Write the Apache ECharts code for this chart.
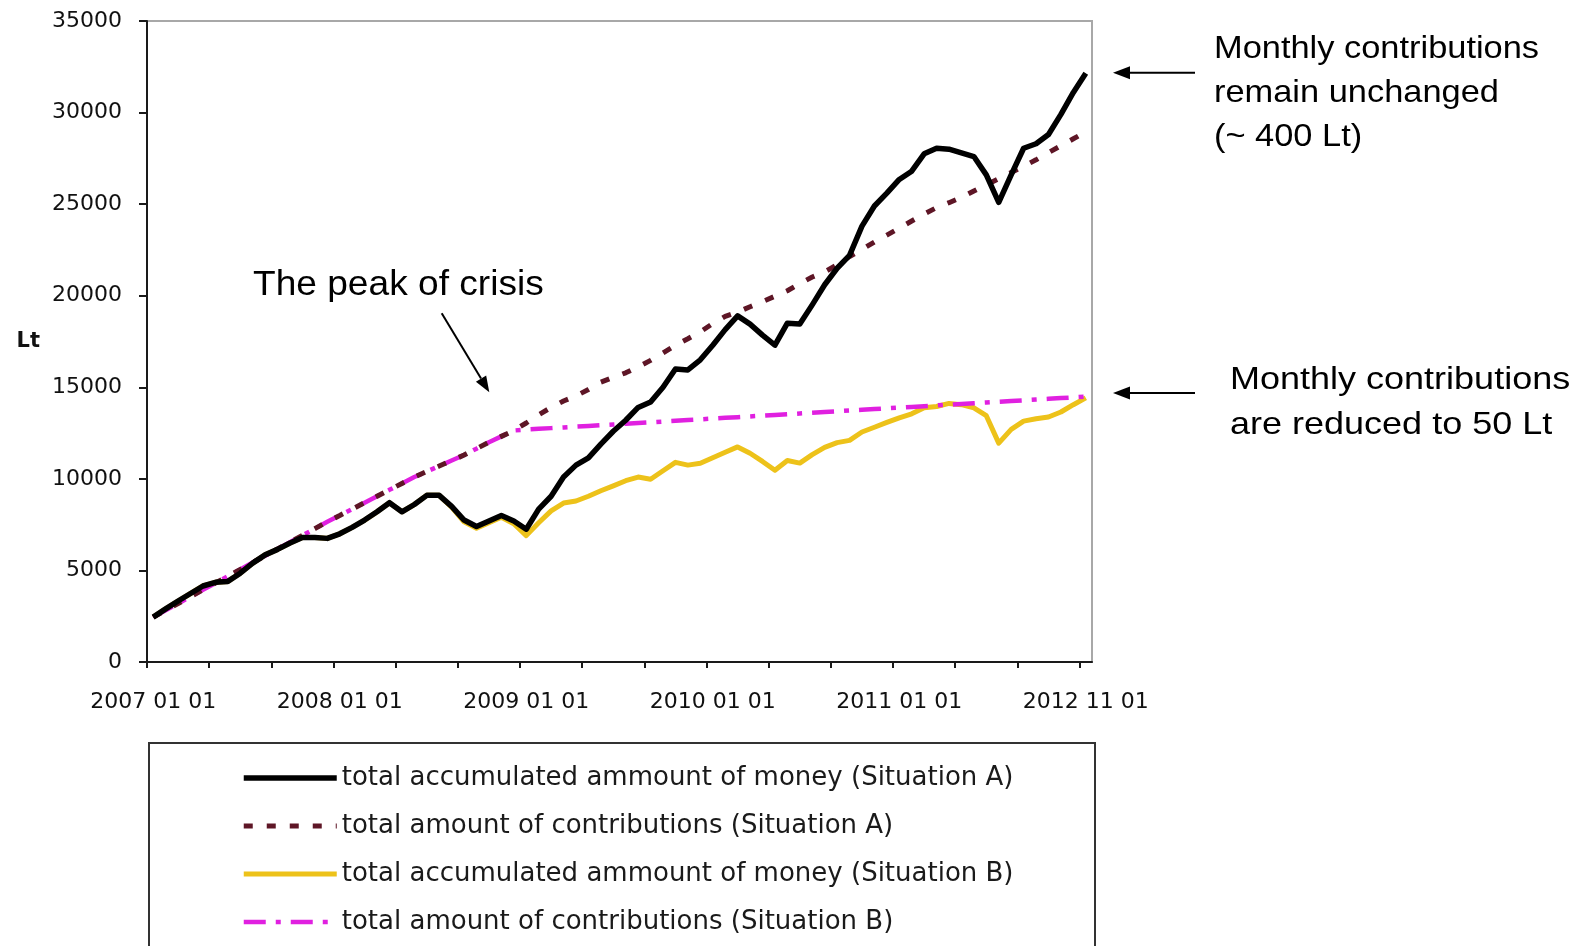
<!DOCTYPE html>
<html>
<head>
<meta charset="utf-8">
<title>Accumulated pension savings, situations A and B</title>
<script src="https://cdn.jsdelivr.net/npm/echarts/dist/echarts.min.js"></script>
<style>
  html, body { margin: 0; padding: 0; background: #ffffff; }
  #chart { width: 1589px; height: 946px; }
</style>
</head>
<body>
<div id="chart"></div>
<script>
// Labelled dates on the horizontal axis (one every 15 data points, ticks every 5)
const tickLabels = ['2007 01 01', '2008 01 01', '2009 01 01', '2010 01 01', '2011 01 01', '2012 11 01'];
const labelStep = 15;
const tickStep = 5;

const seriesNames = [
  'total accumulated ammount of money (Situation A)',
  'total amount of contributions (Situation A)',
  'total accumulated ammount of money (Situation B)',
  'total amount of contributions (Situation B)'
];

// Situation A: accumulated money, Lt
const moneyA = [
  2450, 2900, 3330, 3740, 4150, 4350, 4400, 4850, 5400, 5850,
  6150, 6500, 6800, 6800, 6750, 7000, 7350, 7750, 8200, 8700,
  8200, 8600, 9100, 9100, 8500, 7750, 7400, 7700, 8000, 7700,
  7250, 8350, 9050, 10100, 10750, 11150, 11900, 12600, 13200, 13900,
  14200, 15000, 16000, 15950, 16500, 17300, 18150, 18900, 18450, 17850,
  17300, 18500, 18450, 19500, 20600, 21500, 22200, 23800, 24900, 25600,
  26350, 26800, 27750, 28050, 28000, 27800, 27600, 26600, 25100, 26600,
  28050, 28300, 28800, 29900, 31100, 32150
];

// Situation A: contributions paid in, Lt
const contribA = [
  2450, 2820, 3190, 3570, 3940, 4310, 4680, 5050, 5430, 5800,
  6170, 6540, 6910, 7280, 7660, 8000, 8350, 8700, 9050, 9400,
  9750, 10100, 10400, 10700, 11000, 11300, 11650, 12000, 12320, 12640,
  13050, 13500, 13900, 14250, 14530, 14880, 15280, 15540, 15790, 16110,
  16470, 16880, 17290, 17650, 18030, 18480, 18870, 19100, 19400, 19680,
  19970, 20270, 20660, 21020, 21300, 21690, 22140, 22530, 22930, 23310,
  23690, 24080, 24460, 24810, 25080, 25370, 25720, 26050, 26390, 26730,
  27070, 27420, 27810, 28190, 28570, 28950
];

// Situation B: accumulated money, Lt
const moneyB = [
  2450, 2900, 3330, 3740, 4150, 4350, 4400, 4850, 5400, 5850,
  6150, 6500, 6800, 6800, 6750, 7000, 7350, 7750, 8200, 8700,
  8200, 8600, 9100, 9100, 8450, 7650, 7300, 7600, 7900, 7550,
  6900, 7600, 8250, 8680, 8790, 9050, 9350, 9620, 9900, 10100,
  9980, 10440, 10900, 10750, 10850, 11150, 11450, 11745, 11400, 10950,
  10470, 11000, 10860, 11320, 11720, 11980, 12100, 12560, 12820, 13080,
  13330, 13550, 13880, 13950, 14120, 14050, 13880, 13450, 11950, 12700,
  13150, 13280, 13380, 13650, 14050, 14420
];

// Situation B: contributions paid in, Lt
const contribB = [
  2450, 2820, 3190, 3570, 3940, 4310, 4680, 5050, 5430, 5800,
  6170, 6540, 6910, 7280, 7660, 8000, 8350, 8700, 9050, 9400,
  9750, 10100, 10400, 10700, 11000, 11300, 11650, 12000, 12320, 12640,
  12690, 12730, 12770, 12810, 12850, 12890, 12930, 12970, 13010, 13050,
  13090, 13130, 13170, 13210, 13250, 13290, 13330, 13370, 13410, 13450,
  13490, 13530, 13570, 13610, 13650, 13690, 13730, 13770, 13810, 13850,
  13890, 13930, 13970, 14010, 14050, 14090, 14130, 14170, 14210, 14250,
  14290, 14330, 14370, 14410, 14450, 14490
];

const n = moneyA.length;
// each data point sits in the middle of its slot on the horizontal axis
const toPoints = arr => arr.map((v, i) => [i + 0.5, v]);
const tickValues = [];
for (let i = 0; i < n; i += tickStep) tickValues.push(i);
const labelValues = tickLabels.map((_, k) => k * labelStep + 0.5);

const axisFont = 'DejaVu Sans';
const noteFont = '"Liberation Sans", Arial, sans-serif';

const lineStyles = [
  { color: '#000000', width: 5.5, join: 'round' },
  { color: '#5e1626', width: 5, type: [9, 14] },
  { color: '#edc21a', width: 5, join: 'round' },
  { color: '#e020e0', width: 4.5, type: [22, 10, 5, 10] }
];

function arrow(x1, y1, x2, y2, headLen, headHalf) {
  const dx = x2 - x1, dy = y2 - y1;
  const len = Math.sqrt(dx * dx + dy * dy);
  const ux = dx / len, uy = dy / len;
  const bx = x2 - ux * headLen, by = y2 - uy * headLen;
  const px = -uy * headHalf, py = ux * headHalf;
  return [
    { type: 'line', silent: true, shape: { x1: x1, y1: y1, x2: bx, y2: by },
      style: { stroke: '#000', lineWidth: 2 } },
    { type: 'polygon', silent: true,
      shape: { points: [[x2, y2], [bx + px, by + py], [bx - px, by - py]] },
      style: { fill: '#000' } }
  ];
}

const chart = echarts.init(document.getElementById('chart'), null, { renderer: 'canvas' });

chart.setOption({
  animation: false,
  backgroundColor: '#ffffff',
  grid: {
    left: 147, top: 21, right: 497, bottom: 284,
    show: true, borderColor: '#a8a8a8', borderWidth: 2,
    outerBoundsMode: 'none'
  },
  xAxis: {
    type: 'value',
    min: 0,
    max: n,
    splitLine: { show: false },
    axisLine: { show: true, lineStyle: { color: '#1a1a1a', width: 2 } },
    axisTick: { show: true, customValues: tickValues, length: 6, lineStyle: { color: '#1a1a1a', width: 2 } },
    axisLabel: {
      customValues: labelValues,
      formatter: v => tickLabels[Math.round((v - 0.5) / labelStep)] || '',
      margin: 29,
      fontFamily: axisFont,
      fontSize: 22,
      color: '#111'
    }
  },
  yAxis: {
    type: 'value',
    min: 0,
    max: 35000,
    interval: 5000,
    name: 'Lt',
    nameLocation: 'middle',
    nameRotate: 0,
    nameGap: 107,
    nameTextStyle: { fontFamily: axisFont, fontWeight: 'bold', fontSize: 21, color: '#111' },
    splitLine: { show: false },
    axisLine: { show: true, lineStyle: { color: '#1a1a1a', width: 2 } },
    axisTick: { show: true, length: 8, lineStyle: { color: '#1a1a1a', width: 2 } },
    axisLabel: {
      margin: 25, fontFamily: axisFont, fontSize: 22, color: '#111',
      formatter: v => String(v)
    }
  },
  legend: {
    orient: 'vertical',
    left: 241,
    top: 763,
    padding: 0,
    itemWidth: 93,
    itemHeight: 14,
    itemGap: 18,
    selectedMode: false,
    itemStyle: { opacity: 0 },
    textStyle: { fontFamily: axisFont, fontSize: 26, color: '#1a1a1a', lineHeight: 30 },
    data: seriesNames.map((name, k) => ({ name: name, lineStyle: lineStyles[k] }))
  },
  series: [
    { name: seriesNames[0], type: 'line', data: toPoints(moneyA), z: 6,
      symbol: 'none', itemStyle: { color: lineStyles[0].color }, lineStyle: lineStyles[0] },
    { name: seriesNames[1], type: 'line', data: toPoints(contribA), z: 5,
      symbol: 'none', itemStyle: { color: lineStyles[1].color }, lineStyle: lineStyles[1] },
    { name: seriesNames[2], type: 'line', data: toPoints(moneyB), z: 3,
      symbol: 'none', itemStyle: { color: lineStyles[2].color }, lineStyle: lineStyles[2] },
    { name: seriesNames[3], type: 'line', data: toPoints(contribB), z: 4,
      symbol: 'none', itemStyle: { color: lineStyles[3].color }, lineStyle: lineStyles[3] }
  ],
  graphic: [
    // legend frame
    { type: 'rect', silent: true, shape: { x: 149, y: 743, width: 946, height: 240 },
      style: { fill: null, stroke: '#333', lineWidth: 2 } },
    // notes
    { type: 'text', silent: true, x: 253, y: 285, scaleX: 1.06,
      style: { text: 'The peak of crisis', font: '35px ' + noteFont, fill: '#000',
               textAlign: 'left', textVerticalAlign: 'middle' } },
    { type: 'text', silent: true, x: 1214, y: 27, scaleX: 1.075,
      style: { text: 'Monthly contributions\nremain unchanged\n(~ 400 Lt)', font: '32px ' + noteFont,
               lineHeight: 44, fill: '#000', textAlign: 'left', textVerticalAlign: 'top' } },
    { type: 'text', silent: true, x: 1230, y: 357.5, scaleX: 1.125,
      style: { text: 'Monthly contributions\nare reduced to 50 Lt', font: '32px ' + noteFont,
               lineHeight: 45.3, fill: '#000', textAlign: 'left', textVerticalAlign: 'top' } }
  ]
    .concat(arrow(441.7, 313.3, 489.3, 392.3, 16, 6))
    .concat(arrow(1195, 72.7, 1113, 72.7, 17, 6.5))
    .concat(arrow(1195, 393, 1113, 393, 17, 6.5))
});
</script>
</body>
</html>
